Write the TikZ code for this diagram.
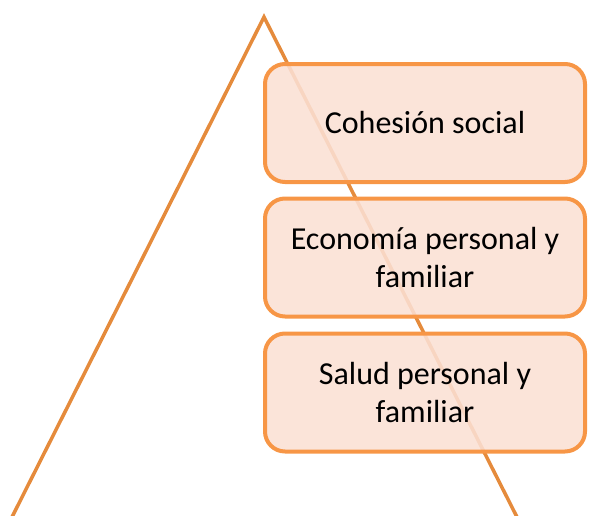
\documentclass[tikz,border=0pt]{standalone}
\usepackage{fontspec}
\setmainfont{Carlito}
\definecolor{legline}{RGB}{229,139,60}
\definecolor{boxline}{RGB}{247,150,70}
\definecolor{boxfill}{RGB}{251,224,212}
\begin{document}
\begin{tikzpicture}[x=1pt,y=-1pt,
  level/.style={draw=boxline, line width=4pt, fill=boxfill, fill opacity=0.88, text opacity=1,
    rounded corners=20pt, minimum width=320pt, minimum height=118pt, inner sep=0pt,
    align=center, font=\fontsize{32}{38.5}\selectfont, text=black},
  leg/.style={draw=legline, line width=3.5pt, line join=miter}]
\useasboundingbox (0,0) rectangle (590,515);
\coordinate (apex) at (264,17);
\coordinate (bl) at (8,525);
\coordinate (br) at (521,525);
\draw[leg] (bl) -- (apex) -- (br);
\node[level] (n1) at (425,123) {Cohesión social};
\node[level] (n2) at (425,257.5) {Economía personal y\\familiar};
\node[level] (n3) at (425,392.5) {Salud personal y\\familiar};
\end{tikzpicture}
\end{document}
